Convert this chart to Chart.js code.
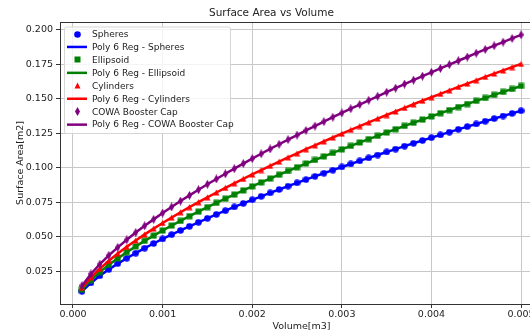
<!DOCTYPE html>
<html>
<head>
<meta charset="utf-8">
<script src="https://cdn.jsdelivr.net/npm/chart.js"></script>
<style>
  html, body { margin: 0; padding: 0; background: #fff; overflow: hidden; }
  #wrap { width: 530px; height: 332px; overflow: hidden; }
</style>
</head>
<body>
<div id="wrap"><canvas id="areaChart" width="601" height="332"></canvas></div>
<script>
const volume = [
  0.0001, 0.0002, 0.0003, 0.0004, 0.0005, 0.0006, 0.0007, 0.0008, 0.0009, 0.0010,
  0.0011, 0.0012, 0.0013, 0.0014, 0.0015, 0.0016, 0.0017, 0.0018, 0.0019, 0.0020,
  0.0021, 0.0022, 0.0023, 0.0024, 0.0025, 0.0026, 0.0027, 0.0028, 0.0029, 0.0030,
  0.0031, 0.0032, 0.0033, 0.0034, 0.0035, 0.0036, 0.0037, 0.0038, 0.0039, 0.0040,
  0.0041, 0.0042, 0.0043, 0.0044, 0.0045, 0.0046, 0.0047, 0.0048, 0.0049, 0.0050,
];
const spheres = [
  0.0104, 0.0165, 0.0217, 0.0263, 0.0305, 0.0344, 0.0381, 0.0417, 0.0451, 0.0484,
  0.0515, 0.0546, 0.0576, 0.0605, 0.0634, 0.0662, 0.0689, 0.0716, 0.0742, 0.0768,
  0.0793, 0.0818, 0.0843, 0.0867, 0.0891, 0.0914, 0.0938, 0.0961, 0.0983, 0.1006,
  0.1028, 0.1050, 0.1072, 0.1093, 0.1115, 0.1136, 0.1157, 0.1178, 0.1198, 0.1219,
  0.1239, 0.1259, 0.1279, 0.1299, 0.1318, 0.1338, 0.1357, 0.1376, 0.1395, 0.1414,
];
const ellipsoid = [
  0.0117, 0.0186, 0.0244, 0.0296, 0.0343, 0.0388, 0.0430, 0.0470, 0.0508, 0.0545,
  0.0581, 0.0615, 0.0649, 0.0682, 0.0714, 0.0746, 0.0776, 0.0806, 0.0836, 0.0865,
  0.0894, 0.0922, 0.0950, 0.0977, 0.1004, 0.1031, 0.1057, 0.1083, 0.1108, 0.1134,
  0.1159, 0.1184, 0.1208, 0.1232, 0.1256, 0.1280, 0.1304, 0.1327, 0.1350, 0.1373,
  0.1396, 0.1419, 0.1441, 0.1463, 0.1486, 0.1507, 0.1529, 0.1551, 0.1572, 0.1594,
];
const cylinders = [
  0.0129, 0.0205, 0.0269, 0.0326, 0.0378, 0.0427, 0.0473, 0.0517, 0.0559, 0.0600,
  0.0639, 0.0678, 0.0715, 0.0751, 0.0786, 0.0821, 0.0855, 0.0888, 0.0920, 0.0952,
  0.0984, 0.1015, 0.1045, 0.1076, 0.1105, 0.1135, 0.1163, 0.1192, 0.1220, 0.1248,
  0.1276, 0.1303, 0.1330, 0.1357, 0.1383, 0.1409, 0.1435, 0.1461, 0.1487, 0.1512,
  0.1537, 0.1562, 0.1587, 0.1611, 0.1635, 0.1660, 0.1684, 0.1707, 0.1731, 0.1754,
];
const cowaCap = [
  0.0145, 0.0230, 0.0301, 0.0365, 0.0423, 0.0478, 0.0530, 0.0579, 0.0626, 0.0672,
  0.0716, 0.0759, 0.0800, 0.0841, 0.0881, 0.0919, 0.0957, 0.0994, 0.1031, 0.1067,
  0.1102, 0.1137, 0.1171, 0.1205, 0.1238, 0.1271, 0.1303, 0.1335, 0.1367, 0.1398,
  0.1429, 0.1459, 0.1490, 0.1519, 0.1549, 0.1578, 0.1608, 0.1636, 0.1665, 0.1693,
  0.1721, 0.1749, 0.1777, 0.1804, 0.1832, 0.1859, 0.1886, 0.1912, 0.1939, 0.1965,
];
const seriesNames = ["Spheres", "Ellipsoid", "Cylinders", "COWA Booster Cap"];
const xTicks = [0, 0.001, 0.002, 0.003, 0.004, 0.005];
const yTicks = [0.025, 0.05, 0.075, 0.1, 0.125, 0.15, 0.175, 0.2];

const seriesValues = [spheres, ellipsoid, cylinders, cowaCap];
const seriesColors = ["#0000ff", "#008000", "#ff0000", "#800080"];
const seriesShapes = ["circle", "square", "triangle", "thinDiamond"];
const FONT = "'DejaVu Sans', sans-serif";

// small canvases used as point markers (also reused for the legend)
function makeMarker(shape, color) {
  const c = document.createElement("canvas");
  const w = shape === "thinDiamond" ? 5 : 7;
  const h = shape === "thinDiamond" ? 9 : 7;
  c.width = w;
  c.height = h;
  const g = c.getContext("2d");
  g.fillStyle = color;
  g.beginPath();
  if (shape === "circle") {
    g.arc(w / 2, h / 2, 3.3, 0, Math.PI * 2);
  } else if (shape === "square") {
    g.rect(0.5, 0.5, 6, 6);
  } else if (shape === "triangle") {
    g.moveTo(w / 2, 0.5);
    g.lineTo(w - 0.5, h - 0.5);
    g.lineTo(0.5, h - 0.5);
  } else {
    g.moveTo(w / 2, 0);
    g.lineTo(w, h / 2);
    g.lineTo(w / 2, h);
    g.lineTo(0, h / 2);
  }
  g.closePath();
  g.fill();
  return c;
}

const datasets = [];
seriesNames.forEach((name, i) => {
  const pts = volume.map((v, k) => ({ x: v, y: seriesValues[i][k] }));
  datasets.push({
    label: name,
    data: pts,
    pointStyle: makeMarker(seriesShapes[i], seriesColors[i]),
    showLine: false,
    borderColor: seriesColors[i],
    backgroundColor: seriesColors[i],
  });
  datasets.push({
    label: "Poly 6 Reg - " + name,
    data: pts,
    showLine: true,
    pointRadius: 0,
    borderWidth: 2.5,
    borderColor: seriesColors[i],
    backgroundColor: seriesColors[i],
  });
});
// later series are painted over earlier ones, like matplotlib
datasets.forEach((d, j) => { d.order = datasets.length - j; });

const frameAndLegend = {
  id: "frameAndLegend",
  afterDatasetsDraw(chart) {
    const { ctx, chartArea: a } = chart;
    ctx.save();
    ctx.strokeStyle = "#333";
    ctx.lineWidth = 1;
    ctx.strokeRect(Math.round(a.left) + 0.5, Math.round(a.top) + 0.5,
      Math.round(a.right - a.left), Math.round(a.bottom - a.top));

    const bx = a.left + 4, by = a.top + 4.5, bw = 166, bh = 106.5;
    ctx.fillStyle = "rgba(255,255,255,0.8)";
    ctx.strokeStyle = "#d6d6d6";
    ctx.beginPath();
    ctx.roundRect(bx + 0.5, by + 0.5, bw, bh, 2);
    ctx.fill();
    ctx.stroke();

    ctx.font = "9px " + FONT;
    ctx.textBaseline = "middle";
    ctx.textAlign = "left";
    chart.data.datasets.forEach((d, i) => {
      const y = by + 7.5 + i * 12.95;
      if (d.showLine) {
        ctx.strokeStyle = d.borderColor;
        ctx.lineWidth = 2.5;
        ctx.beginPath();
        ctx.moveTo(bx + 3, y);
        ctx.lineTo(bx + 23, y);
        ctx.stroke();
      } else {
        const m = d.pointStyle;
        ctx.drawImage(m, Math.round(bx + 13 - m.width / 2), Math.round(y - m.height / 2));
      }
      ctx.fillStyle = "#222";
      ctx.fillText(d.label, bx + 28, y + 0.5);
    });
    ctx.restore();
  },
};

new Chart(document.getElementById("areaChart"), {
  type: "scatter",
  data: { datasets: datasets },
  plugins: [frameAndLegend],
  options: {
    responsive: false,
    animation: false,
    devicePixelRatio: 1,
    layout: { padding: { left: 0, right: 58, top: 0, bottom: 0 } },
    elements: { line: { tension: 0 } },
    plugins: {
      legend: { display: false },
      tooltip: { enabled: false },
      title: {
        display: true,
        text: "Surface Area vs Volume",
        color: "#222",
        font: { family: FONT, size: 10.5, weight: "normal" },
        padding: { top: 6.5, bottom: 2.9 },
      },
    },
    scales: {
      x: {
        type: "linear",
        min: -0.000145,
        max: 0.005245,
        afterBuildTicks: (s) => { s.ticks = xTicks.map((v) => ({ value: v })); },
        afterFit: (s) => { s.height = 28; },
        grid: { color: "#c8c8c8", lineWidth: 1, tickLength: 4, tickColor: "#333" },
        border: { display: false },
        ticks: {
          color: "#222",
          padding: 1,
          maxRotation: 0,
          font: { family: FONT, size: 9.5 },
          callback: (v) => Number(v).toFixed(3),
        },
        title: {
          display: true,
          text: "Volume[m3]",
          color: "#222",
          font: { family: FONT, size: 9.5 },
          padding: { top: 0, bottom: 0 },
        },
      },
      y: {
        type: "linear",
        min: 0.0012,
        max: 0.2058,
        afterBuildTicks: (s) => { s.ticks = yTicks.map((v) => ({ value: v })); },
        afterFit: (s) => { s.width = 60; },
        grid: { color: "#c8c8c8", lineWidth: 1, tickLength: 4, tickColor: "#333" },
        border: { display: false },
        ticks: {
          color: "#222",
          padding: 3,
          font: { family: FONT, size: 9.5 },
          callback: (v) => Number(v).toFixed(3),
        },
        title: {
          display: true,
          text: "Surface Area[m2]",
          color: "#222",
          font: { family: FONT, size: 9.5 },
          padding: { top: 15, bottom: 0 },
        },
      },
    },
  },
});
</script>
</body>
</html>
